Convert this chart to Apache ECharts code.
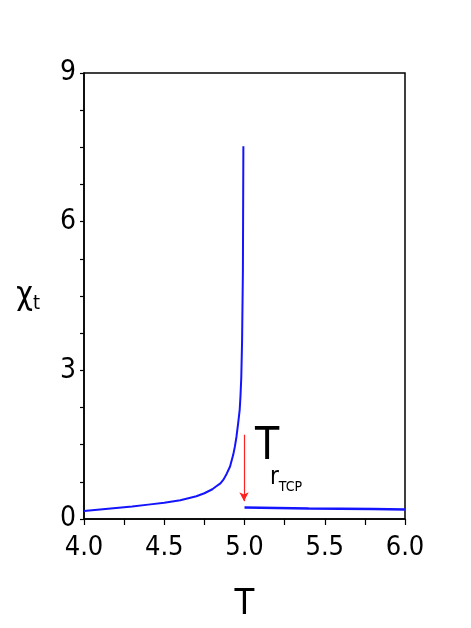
<!DOCTYPE html>
<html>
<head>
<meta charset="utf-8">
<script src="https://cdn.jsdelivr.net/npm/echarts@6/dist/echarts.min.js"></script>
<style>
  html, body { margin: 0; padding: 0; background: #fff; }
  #main { width: 471px; height: 628px; }
</style>
</head>
<body>
<div id="main"></div>
<script>
// below the transition (diverging branch)
const tLow = [4.0, 4.1, 4.2, 4.3, 4.4, 4.5, 4.6, 4.65, 4.7, 4.75, 4.8, 4.82, 4.85, 4.87, 4.89, 4.91, 4.93, 4.94, 4.95, 4.96, 4.97, 4.975, 4.98, 4.985, 4.99, 4.993];
const chiLow = [0.16, 0.19, 0.22, 0.25, 0.29, 0.33, 0.38, 0.42, 0.46, 0.52, 0.6, 0.65, 0.72, 0.8, 0.92, 1.06, 1.3, 1.46, 1.66, 1.92, 2.2, 2.48, 2.86, 3.6, 5.0, 7.52];
// above the transition
const tHigh = [5.0, 5.2, 5.4, 5.6, 5.8, 6.0];
const chiHigh = [0.23, 0.22, 0.21, 0.205, 0.2, 0.19];
// red arrow marking T_rTCP
const arrowT = 4.997;
const arrowChi = [1.7, 0.36];

const xTicks = [4.0, 4.5, 5.0, 5.5, 6.0];
const yTicks = [0, 3, 6, 9];

const font = "'DejaVu Sans Condensed', 'Liberation Sans Narrow', 'Liberation Sans', sans-serif";

const chart = echarts.init(document.getElementById('main'));

function pairs(xs, ys) {
  return xs.map((x, i) => [x, ys[i]]);
}

const option = {
  animation: false,
  grid: {
    left: 84, right: 66, top: 73, bottom: 105,
    show: true, borderColor: '#000', borderWidth: 1.5
  },
  xAxis: {
    type: 'value',
    min: xTicks[0], max: xTicks[xTicks.length - 1], interval: 0.5,
    name: 'T', nameLocation: 'middle', nameGap: 68,
    nameTextStyle: { fontFamily: font, fontSize: 36, color: '#000' },
    axisLine: { lineStyle: { color: '#000', width: 1.5 } },
    axisTick: { length: 6, lineStyle: { color: '#000', width: 1.2 } },
    minorTick: { show: true, splitNumber: 2, length: 6, lineStyle: { color: '#000', width: 1.2 } },
    splitLine: { show: false },
    axisLabel: {
      fontFamily: font, fontSize: 27, color: '#000', margin: 15,
      formatter: v => v.toFixed(1)
    }
  },
  yAxis: {
    type: 'value',
    min: yTicks[0], max: yTicks[yTicks.length - 1], interval: 3,
    name: '{a|χ}{b|t}', nameLocation: 'middle', nameGap: 44, nameRotate: 0,
    nameTextStyle: {
      rich: {
        a: { fontFamily: font, fontSize: 32, color: '#000' },
        b: { fontFamily: font, fontSize: 20, color: '#000', padding: [16, 0, 0, 0] }
      }
    },
    axisLine: { lineStyle: { color: '#000', width: 1.5 } },
    axisTick: { length: 4, lineStyle: { color: '#000', width: 1.2 } },
    minorTick: { show: true, splitNumber: 4, length: 4, lineStyle: { color: '#000', width: 1.2 } },
    splitLine: { show: false },
    axisLabel: { fontFamily: font, fontSize: 28, color: '#000', margin: 8 }
  },
  series: [
    {
      type: 'line', data: pairs(tLow, chiLow), showSymbol: false,
      lineStyle: { color: '#1414ff', width: 2 }
    },
    {
      type: 'line', data: pairs(tHigh, chiHigh), showSymbol: false,
      lineStyle: { color: '#1414ff', width: 2.5 },
      markLine: {
        silent: true,
        symbol: ['none', 'arrow'], symbolSize: [7, 9],
        lineStyle: { color: '#ff2020', width: 1.2, type: 'solid' },
        label: { show: false },
        data: [[{ coord: [arrowT, arrowChi[0]] }, { coord: [arrowT, arrowChi[1]] }]]
      }
    }
  ],
  graphic: [
    {
      type: 'text', left: 255, top: 426,
      style: {
        text: '{a|T}',
        rich: { a: { fontFamily: font, fontSize: 44, fill: '#000' } }
      }
    },
    {
      type: 'text', left: 270, top: 466,
      style: {
        text: '{b|r}{c|TCP}',
        rich: {
          b: { fontFamily: font, fontSize: 24, fill: '#000' },
          c: { fontFamily: font, fontSize: 14, fill: '#000', padding: [18, 0, 0, 0] }
        }
      }
    }
  ]
};

chart.setOption(option);
</script>
</body>
</html>
